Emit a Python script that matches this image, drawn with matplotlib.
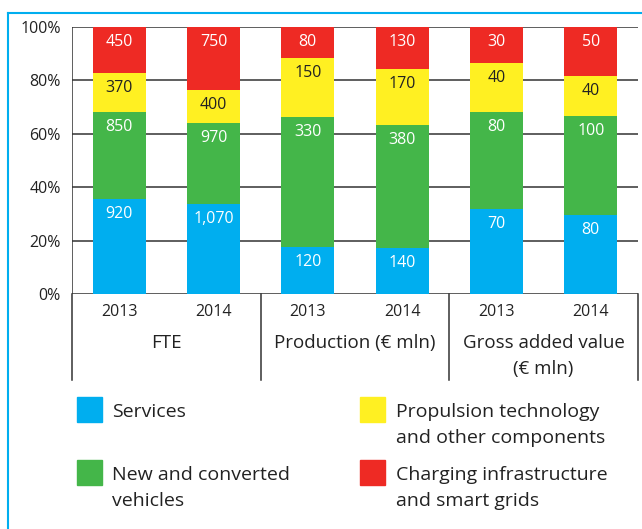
import matplotlib
matplotlib.use("Agg")
import matplotlib.pyplot as plt
from matplotlib.patches import Rectangle
from matplotlib.lines import Line2D
import numpy as np

## data
groups = ["FTE", "Production (€ mln)", "Gross added value\n(€ mln)"]
years = ["2013", "2014", "2013", "2014", "2013", "2014"]
series = ["Services", "New and converted\nvehicles",
          "Propulsion technology\nand other components",
          "Charging infrastructure\nand smart grids"]
services = [920, 1070, 120, 140, 70, 80]
vehicles = [850, 970, 330, 380, 80, 100]
propulsion = [370, 400, 150, 170, 40, 40]
charging = [450, 750, 80, 130, 30, 50]

colors = ["#00AEEF", "#44B649", "#FFF022", "#EE2A24"]
label_colors = ["white", "white", "#222222", "white"]
txt = "#222222"

plt.rcParams["font.family"] = ["Open Sans", "DejaVu Sans"]

W, H = 642, 529
fig = plt.figure(figsize=(W / 100, H / 100), dpi=100)

def fx(px):
    return px / W

def fy(py):
    return 1 - py / H

## axes placement in pixels
left, right, top, bottom = 72, 638, 27, 294
ax = fig.add_axes([fx(left), fy(bottom), fx(right - left), (bottom - top) / H])

def ay(py):
    # pixel row -> axes fraction
    return -(py - bottom) / (bottom - top)

values = np.array([services, vehicles, propulsion, charging], dtype=float)
totals = values.sum(axis=0)
pct = values / totals * 100

x = np.arange(len(years))
base = np.zeros(len(years))
for i in range(4):
    ax.bar(x, pct[i], bottom=base, width=0.56, color=colors[i], zorder=3)
    for j in range(len(years)):
        ax.annotate(f"{int(values[i, j]):,}", (x[j], base[j] + pct[i, j]),
                    xytext=(0, -15), textcoords="offset pixels",
                    ha="center", va="center", fontsize=11.5,
                    color=label_colors[i], zorder=4)
    base += pct[i]

ax.set_xlim(-0.5, 5.5)
ax.set_ylim(0, 100)
ax.set_yticks(np.arange(0, 101, 20))
ax.set_yticklabels([f"{v}%" for v in range(0, 101, 20)], fontsize=11.5, color=txt)
ax.tick_params(axis="y", length=0, pad=8)
ax.set_xticks([])
for s in ax.spines.values():
    s.set_visible(False)
for v in range(0, 101, 20):
    ax.axhline(v, color="#333333", lw=1.1, zorder=1)
ax.axvline(-0.5, color="#333333", lw=1.1, zorder=1)

## table below the bars
tr = ax.get_xaxis_transform()
for xb in [-0.5, 1.5, 3.5, 5.5]:
    ax.add_line(Line2D([xb, xb], [0, ay(380)], transform=tr, color="#333333",
                       lw=1.1, clip_on=False))
for j, yr in enumerate(years):
    ax.text(x[j], ay(312), yr, transform=tr, ha="center",
            va="center", fontsize=11.5, color=txt)
for g, name in enumerate(groups):
    for k, line in enumerate(name.split("\n")):
        ax.text(2 * g + 0.5, ay(343 + 26 * k), line, transform=tr,
                ha="center", va="center", fontsize=13.5, color=txt)

## legend
leg_items = [(77, 397, 112, 0), (360, 397, 396, 2), (77, 460, 112, 1), (360, 460, 396, 3)]
for sx, sy, tx, k in leg_items:
    fig.patches.append(Rectangle((fx(sx), fy(sy + 25)), fx(25), 25 / H,
                                 transform=fig.transFigure, color=colors[k]))
    for n, line in enumerate(series[k].split("\n")):
        fig.text(fx(tx), fy(sy + 15 + 26 * n), line, ha="left", va="center",
                 fontsize=14, color=txt)

## light blue frame on the left and top
fig.add_artist(Line2D([fx(8), fx(8)], [fy(13), 0], color="#00AEEF", lw=1.5))
fig.add_artist(Line2D([fx(8), 1], [fy(13), fy(13)], color="#00AEEF", lw=1.5))

fig.savefig("out.png", dpi=100)
